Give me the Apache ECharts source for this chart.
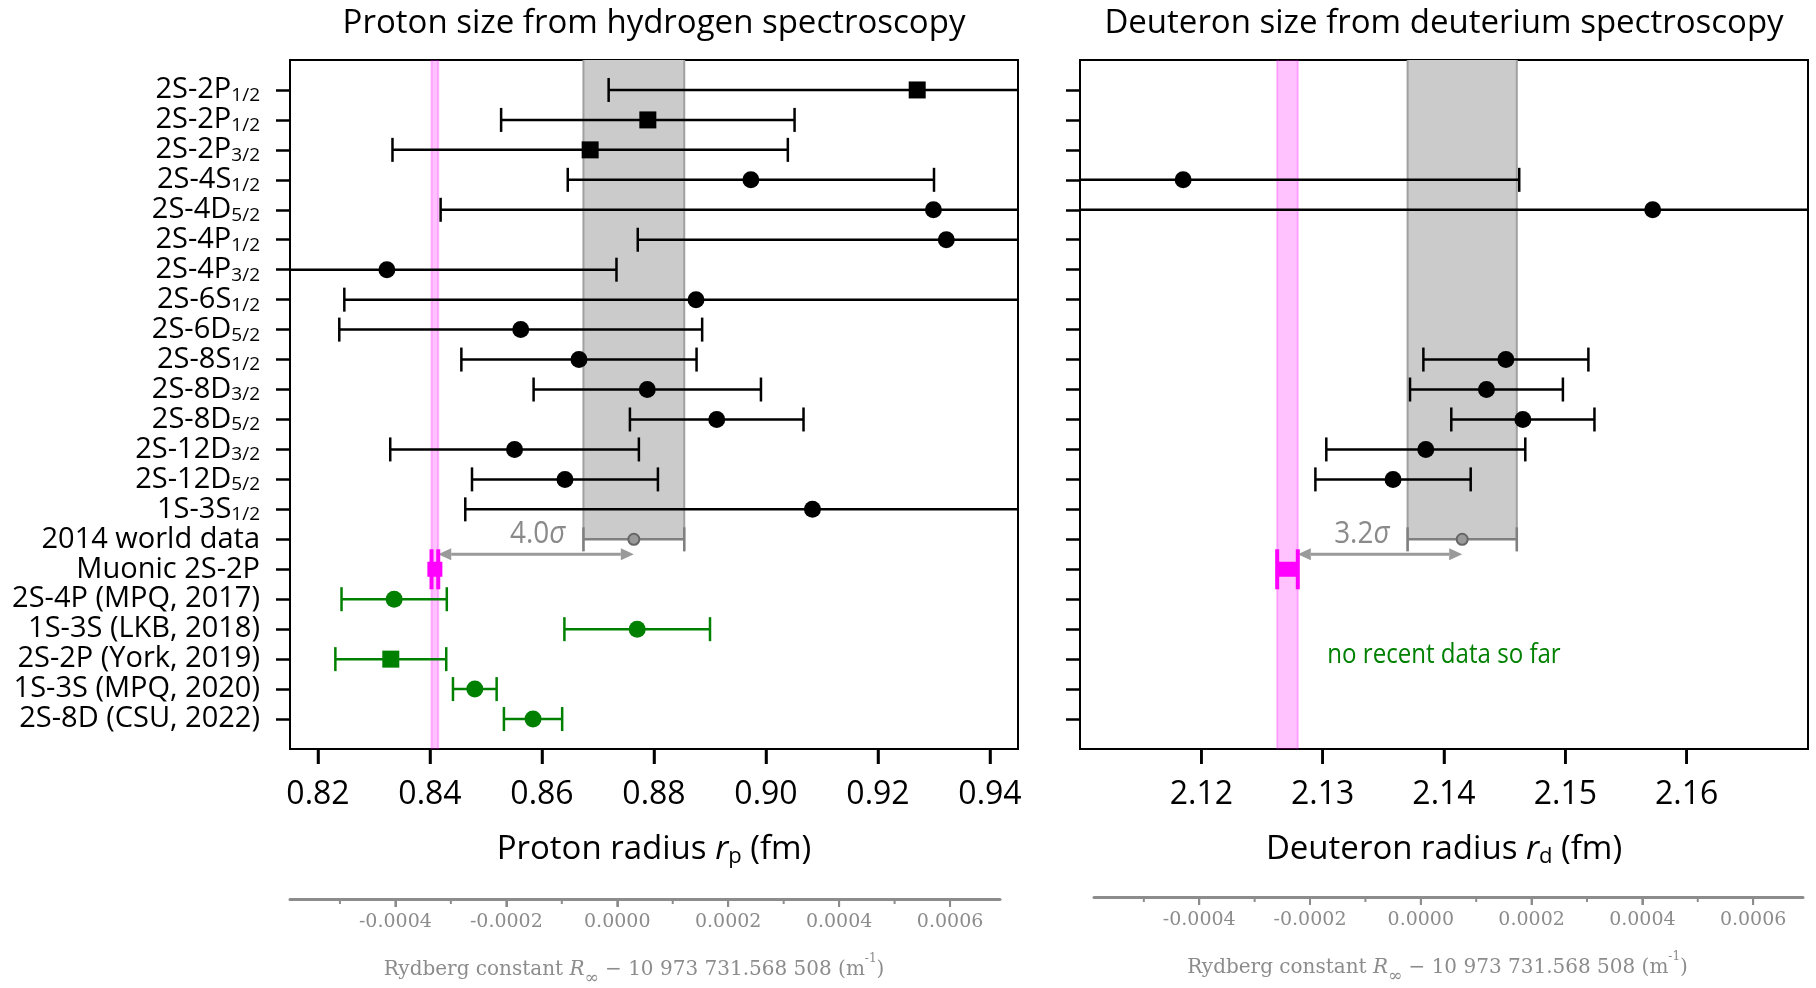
<!DOCTYPE html>
<html lang="en">
<head>
  <meta charset="UTF-8">
  <title>Proton and deuteron size from spectroscopy</title>
  <style>html, body { margin: 0; padding: 0; background: #fff; }</style>
</head>
<body>
  <div id="main" style="width:1816px;height:988px;"></div>
  <script src="https://cdn.jsdelivr.net/npm/echarts@6/dist/echarts.min.js"></script>
  <script type="text/javascript">
    // row labels, top to bottom (subscripts kept apart so they can be drawn small)
    var rowNames = ['2S-2P', '2S-2P', '2S-2P', '2S-4S', '2S-4D', '2S-4P', '2S-4P', '2S-6S', '2S-6D',
      '2S-8S', '2S-8D', '2S-8D', '2S-12D', '2S-12D', '1S-3S', '2014 world data', 'Muonic 2S-2P',
      '2S-4P (MPQ, 2017)', '1S-3S (LKB, 2018)', '2S-2P (York, 2019)', '1S-3S (MPQ, 2020)', '2S-8D (CSU, 2022)'];
    var rowSubs = ['1/2', '1/2', '3/2', '1/2', '5/2', '1/2', '3/2', '1/2', '5/2',
      '1/2', '3/2', '5/2', '3/2', '5/2', '1/2', '', '', '', '', '', '', ''];

    // hydrogen, older measurements (fm)
    var hRows   = [0, 1, 2, 3, 4, 5, 6, 7, 8, 9, 10, 11, 12, 13, 14];
    var hRadius = [0.9270, 0.8789, 0.8686, 0.8973, 0.9299, 0.9322, 0.8323, 0.8875, 0.8562, 0.8666, 0.8788, 0.8912, 0.8551, 0.8641, 0.9083];
    var hErr    = [0.0551, 0.0262, 0.0353, 0.0327, 0.0880, 0.0551, 0.0410, 0.0628, 0.0324, 0.0210, 0.0203, 0.0155, 0.0222, 0.0166, 0.0620];
    var hShape  = ['square', 'square', 'square', 'circle', 'circle', 'circle', 'circle', 'circle', 'circle', 'circle', 'circle', 'circle', 'circle', 'circle', 'circle'];

    // hydrogen, recent measurements (green)
    var newRows   = [17, 18, 19, 20, 21];
    var newRadius = [0.8336, 0.8770, 0.8330, 0.8480, 0.8584];
    var newErr    = [0.0094, 0.0130, 0.0099, 0.0039, 0.0052];
    var newShape  = ['circle', 'circle', 'square', 'circle', 'circle'];

    // deuterium (fm)
    var dRows   = [3, 4, 9, 10, 11, 12, 13];
    var dRadius = [2.1185, 2.1572, 2.1451, 2.1435, 2.1465, 2.1385, 2.1358];
    var dErr    = [0.0277, 0.0500, 0.0068, 0.0063, 0.0059, 0.0082, 0.0064];
    var dShape  = ['circle', 'circle', 'circle', 'circle', 'circle', 'circle', 'circle'];

    // reference values [value, uncertainty]
    var worldRow = 15, muonRow = 16;
    var worldP = [0.8764, 0.0090], muonP = [0.84087, 0.0006];
    var worldD = [2.1415, 0.0045], muonD = [2.1271, 0.00085];
    var sigmaLabels = ['4.0', '3.2'];
    var noteText = 'no recent data so far';
    var notePos = [2.1400, 18.87];

    // tick values
    var rpTicks = [0.82, 0.84, 0.86, 0.88, 0.90, 0.92, 0.94];
    var rdTicks = [2.12, 2.13, 2.14, 2.15, 2.16];
    var rydMajor = [-0.0004, -0.0002, 0, 0.0002, 0.0004, 0.0006];
    var rydMinor = [-0.0005, -0.0003, -0.0001, 0.0001, 0.0003, 0.0005];
    var rowTicks = rowNames.map(function (n, i) { return i; });

    var SANS = '"Open Sans", "Noto Sans", sans-serif';
    var SERIF = '"DejaVu Serif", serif';
    var GREEN = '#008000', MAGENTA = '#ff00ff', GREY = '#808080', RYD = '#8c8c8c';

    var myChart = echarts.init(document.getElementById('main'));

    function errorBars(xi, rows, vals, errs, shapes, color) {
      return {
        type: 'custom', xAxisIndex: xi, yAxisIndex: xi, clip: true, z: 5, silent: true,
        data: rows.map(function (r, i) { return [vals[i], errs[i], r, shapes[i] === 'square' ? 1 : 0]; }),
        renderItem: function (params, api) {
          var v = api.value(0), e = api.value(1), r = api.value(2);
          var c = api.coord([v, r]), a = api.coord([v - e, r]), b = api.coord([v + e, r]);
          var h = 12, st = { stroke: color, lineWidth: 2.5 };
          var kids = [
            { type: 'line', shape: { x1: a[0], y1: c[1], x2: b[0], y2: c[1] }, style: st },
            { type: 'line', shape: { x1: a[0], y1: c[1] - h, x2: a[0], y2: c[1] + h }, style: st },
            { type: 'line', shape: { x1: b[0], y1: c[1] - h, x2: b[0], y2: c[1] + h }, style: st }
          ];
          if (api.value(3) === 1) {
            kids.push({ type: 'rect', shape: { x: c[0] - 8.5, y: c[1] - 8.5, width: 17, height: 17 }, style: { fill: color } });
          } else {
            kids.push({ type: 'circle', shape: { cx: c[0], cy: c[1], r: 8.5 }, style: { fill: color } });
          }
          return { type: 'group', children: kids };
        }
      };
    }

    // shaded bands: muonic (pink, full height) and 2014 world data (grey, down to its row)
    function bands(xi, world, muon) {
      return {
        type: 'custom', xAxisIndex: xi, yAxisIndex: xi, clip: true, z: 1, silent: true,
        data: [[world[0], world[1], muon[0], muon[1]]],
        renderItem: function (params, api) {
          var wl = api.coord([api.value(0) - api.value(1), -1]);
          var wr = api.coord([api.value(0) + api.value(1), worldRow]);
          var ml = api.coord([api.value(2) - api.value(3), -1]);
          var mr = api.coord([api.value(2) + api.value(3), 22]);
          var edge = { stroke: '#a0a0a0', lineWidth: 2 };
          var pinkEdge = { stroke: 'rgba(255,0,255,0.25)', lineWidth: 2 };
          return { type: 'group', children: [
            { type: 'rect', shape: { x: wl[0], y: wl[1], width: wr[0] - wl[0], height: wr[1] - wl[1] }, style: { fill: '#cbcbcb' } },
            { type: 'line', shape: { x1: wl[0], y1: wl[1], x2: wl[0], y2: wr[1] + 12 }, style: edge },
            { type: 'line', shape: { x1: wr[0], y1: wl[1], x2: wr[0], y2: wr[1] + 12 }, style: edge },
            { type: 'rect', shape: { x: ml[0], y: ml[1], width: mr[0] - ml[0], height: mr[1] - ml[1] }, style: { fill: 'rgba(255,0,255,0.24)' } },
            { type: 'line', shape: { x1: ml[0], y1: ml[1], x2: ml[0], y2: mr[1] }, style: pinkEdge },
            { type: 'line', shape: { x1: mr[0], y1: ml[1], x2: mr[0], y2: mr[1] }, style: pinkEdge }
          ] };
        }
      };
    }

    // world value, muonic value, the arrow between them and the sigma label
    function references(xi, world, muon, sig) {
      return {
        type: 'custom', xAxisIndex: xi, yAxisIndex: xi, clip: true, z: 6, silent: true,
        data: [[world[0], world[1], muon[0], muon[1]]],
        renderItem: function (params, api) {
          var w = api.value(0), we = api.value(1), m = api.value(2), me = api.value(3);
          var wc = api.coord([w, worldRow]), wl = api.coord([w - we, worldRow]), wr = api.coord([w + we, worldRow]);
          var mc = api.coord([m, muonRow]), ml = api.coord([m - me, muonRow]), mr = api.coord([m + me, muonRow]);
          var ay = api.coord([w, worldRow + 0.5])[1];
          var x1 = mr[0], x2 = wc[0], hl = 13, hw = 6;
          var g = { stroke: GREY, lineWidth: 2.5 };
          var arrowCol = '#9a9a9a';
          var sq = Math.max(mr[0] - ml[0], 15);
          return { type: 'group', children: [
            { type: 'line', shape: { x1: wl[0], y1: wc[1], x2: wr[0], y2: wc[1] }, style: g },
            { type: 'line', shape: { x1: wl[0], y1: wc[1] - 12, x2: wl[0], y2: wc[1] + 12 }, style: g },
            { type: 'line', shape: { x1: wr[0], y1: wc[1] - 12, x2: wr[0], y2: wc[1] + 12 }, style: g },
            { type: 'circle', shape: { cx: wc[0], cy: wc[1], r: 5.5 }, style: { fill: '#9a9a9a', stroke: '#666', lineWidth: 2 } },
            { type: 'line', shape: { x1: x1 + hl, y1: ay, x2: x2 - hl, y2: ay }, style: { stroke: arrowCol, lineWidth: 3 } },
            { type: 'polygon', shape: { points: [[x1, ay], [x1 + hl, ay - hw], [x1 + hl, ay + hw]] }, style: { fill: arrowCol } },
            { type: 'polygon', shape: { points: [[x2, ay], [x2 - hl, ay - hw], [x2 - hl, ay + hw]] }, style: { fill: arrowCol } },
            { type: 'text', x: wl[0] - 18, y: wc[1] - 5, scaleX: 0.9,
              style: { text: '{a|' + sig + '}{b|σ}', align: 'right', verticalAlign: 'middle', textAlign: 'right', textVerticalAlign: 'middle',
                rich: { a: { fontSize: 31, fontFamily: SANS, fill: '#8a8a8a' }, b: { fontSize: 31, fontFamily: SANS, fontStyle: 'italic', fill: '#8a8a8a' } } } },
            { type: 'line', shape: { x1: ml[0], y1: mc[1] - 20, x2: ml[0], y2: mc[1] + 20 }, style: { stroke: MAGENTA, lineWidth: 4 } },
            { type: 'line', shape: { x1: mr[0], y1: mc[1] - 20, x2: mr[0], y2: mc[1] + 20 }, style: { stroke: MAGENTA, lineWidth: 4 } },
            { type: 'line', shape: { x1: ml[0], y1: mc[1], x2: mr[0], y2: mc[1] }, style: { stroke: MAGENTA, lineWidth: 3 } },
            { type: 'rect', shape: { x: mc[0] - sq / 2, y: mc[1] - 7.5, width: sq, height: 15 }, style: { fill: MAGENTA } }
          ] };
        }
      };
    }

    var rowLabelRich = {
      m: { fontFamily: SANS, fontSize: 29, color: '#000', lineHeight: 30 },
      s: { fontFamily: SANS, fontSize: 19, color: '#000', lineHeight: 13, verticalAlign: 'bottom' }
    };
    var nameRich = {
      n: { fontFamily: SANS, fontSize: 33, color: '#000', lineHeight: 36 },
      i: { fontFamily: SANS, fontSize: 33, color: '#000', lineHeight: 36, fontStyle: 'italic' },
      s: { fontFamily: SANS, fontSize: 22, color: '#000', lineHeight: 18, verticalAlign: 'bottom' }
    };
    var rydRich = {
      n: { fontFamily: SERIF, fontSize: 20, color: RYD, lineHeight: 24 },
      i: { fontFamily: SERIF, fontSize: 20, color: RYD, lineHeight: 24, fontStyle: 'italic' },
      s: { fontFamily: SERIF, fontSize: 17, color: RYD, lineHeight: 14, verticalAlign: 'bottom' },
      p: { fontFamily: SERIF, fontSize: 12, color: RYD, lineHeight: 34, verticalAlign: 'top' }
    };

    function mainX(gi, min, max, ticks, name) {
      return {
        type: 'value', gridIndex: gi, min: min, max: max, position: 'bottom',
        axisLine: { show: true, onZero: false, lineStyle: { color: '#000', width: 2 } }, splitLine: { show: false },
        axisTick: { show: true, inside: false, length: 15, customValues: ticks, lineStyle: { color: '#000', width: 2.5 } },
        axisLabel: { show: true, margin: 30, customValues: ticks, fontFamily: SANS, fontSize: 32, color: '#000',
          formatter: function (v) { return v.toFixed(2); } },
        name: name, nameLocation: 'middle', nameGap: 83, nameTextStyle: { rich: nameRich }
      };
    }
    function mainY(gi, showLabels) {
      return {
        type: 'value', gridIndex: gi, min: -1, max: 22, inverse: true,
        axisLine: { show: true, onZero: false, lineStyle: { color: '#000', width: 2 } }, splitLine: { show: false },
        axisTick: { show: true, inside: false, length: 14, customValues: rowTicks, lineStyle: { color: '#000', width: 2.5 } },
        axisLabel: { show: showLabels, margin: 30, customValues: rowTicks, rich: rowLabelRich,
          formatter: function (v) {
            var i = Math.round(v);
            return '{m|' + rowNames[i] + '}' + (rowSubs[i] ? '{s|' + rowSubs[i] + '}' : '');
          } }
      };
    }
    function rydX(gi) {
      return {
        type: 'value', gridIndex: gi, min: -0.00059, max: 0.00069, position: 'bottom',
        splitLine: { show: false },
        axisLine: { show: true, onZero: false, lineStyle: { color: RYD, width: 3 } },
        axisTick: { show: true, inside: false, length: 8, customValues: rydMajor, lineStyle: { color: RYD, width: 2 } },
        axisLabel: { show: true, margin: 14, customValues: rydMajor, fontFamily: SERIF, fontSize: 19, color: RYD,
          formatter: function (v) { return v.toFixed(4); } },
        name: '{n|Rydberg constant }{i|R}{s|∞}{n| − 10 973 731.568 508 (m}{p|-1}{n|)}',
        nameLocation: 'middle', nameGap: 54,
        nameTextStyle: { rich: rydRich, padding: [0, 22, 0, 0] }
      };
    }

    var titles = [
      { type: 'text', x: 654, y: 24, style: { text: 'Proton size from hydrogen spectroscopy', fontFamily: SANS, fontSize: 33, fill: '#000',
        align: 'center', verticalAlign: 'middle', textAlign: 'center', textVerticalAlign: 'middle' } },
      { type: 'text', x: 1444, y: 24, style: { text: 'Deuteron size from deuterium spectroscopy', fontFamily: SANS, fontSize: 33, fill: '#000',
        align: 'center', verticalAlign: 'middle', textAlign: 'center', textVerticalAlign: 'middle' } }
    ];

    var option = {
      animation: false,
      backgroundColor: '#fff',
      grid: [
        { left: 290, top: 60, width: 728, height: 689, show: true, borderColor: '#000', borderWidth: 2, backgroundColor: 'transparent', outerBoundsMode: 'none' },
        { left: 1080, top: 60, width: 728, height: 689, show: true, borderColor: '#000', borderWidth: 2, backgroundColor: 'transparent', outerBoundsMode: 'none' },
        { left: 290, top: 898, width: 710, height: 1, outerBoundsMode: 'none' },
        { left: 1094, top: 896, width: 709, height: 1, outerBoundsMode: 'none' }
      ],
      xAxis: [
        mainX(0, 0.815, 0.945, rpTicks, '{n|Proton radius }{i|r}{s|p}{n| (fm)}'),
        mainX(1, 2.11, 2.17, rdTicks, '{n|Deuteron radius }{i|r}{s|d}{n| (fm)}'),
        rydX(2), rydX(3)
      ],
      yAxis: [
        mainY(0, true), mainY(1, false),
        { type: 'value', gridIndex: 2, show: false, min: 0, max: 1 },
        { type: 'value', gridIndex: 3, show: false, min: 0, max: 1 }
      ],
      graphic: titles,
      series: [
        bands(0, worldP, muonP),
        bands(1, worldD, muonD),
        errorBars(0, hRows, hRadius, hErr, hShape, '#000'),
        errorBars(0, newRows, newRadius, newErr, newShape, GREEN),
        errorBars(1, dRows, dRadius, dErr, dShape, '#000'),
        references(0, worldP, muonP, sigmaLabels[0]),
        references(1, worldD, muonD, sigmaLabels[1]),
        {
          type: 'custom', xAxisIndex: 1, yAxisIndex: 1, z: 6, silent: true,
          data: [notePos],
          renderItem: function (params, api) {
            var p = api.coord([api.value(0), api.value(1)]);
            return { type: 'text', x: p[0], y: p[1], scaleX: 0.86,
              style: { text: noteText, fontFamily: SANS, fontSize: 28, fill: GREEN,
                align: 'center', verticalAlign: 'middle', textAlign: 'center', textVerticalAlign: 'middle' } };
          }
        }
      ]
    };

    myChart.setOption(option);

    // bottom tick marks, positioned through each grid's own scale
    var tickLines = [];
    function addTicks(gi, ticks, yVal, len, color, width) {
      ticks.forEach(function (t) {
        var p = myChart.convertToPixel({ gridIndex: gi }, [t, yVal]);
        if (!p) return;
        tickLines.push({ type: 'line', z: 100, silent: true,
          shape: { x1: p[0], y1: p[1], x2: p[0], y2: p[1] + len },
          style: { stroke: color, lineWidth: width } });
      });
    }
    addTicks(0, rpTicks, 22, 15, '#000', 2.5);
    addTicks(1, rdTicks, 22, 15, '#000', 2.5);
    addTicks(2, rydMajor, 0, 8, RYD, 2);
    addTicks(3, rydMajor, 0, 8, RYD, 2);
    addTicks(2, rydMinor, 0, 5, RYD, 2);
    addTicks(3, rydMinor, 0, 5, RYD, 2);
    myChart.setOption({ graphic: titles.concat(tickLines) });
  </script>
</body>
</html>
